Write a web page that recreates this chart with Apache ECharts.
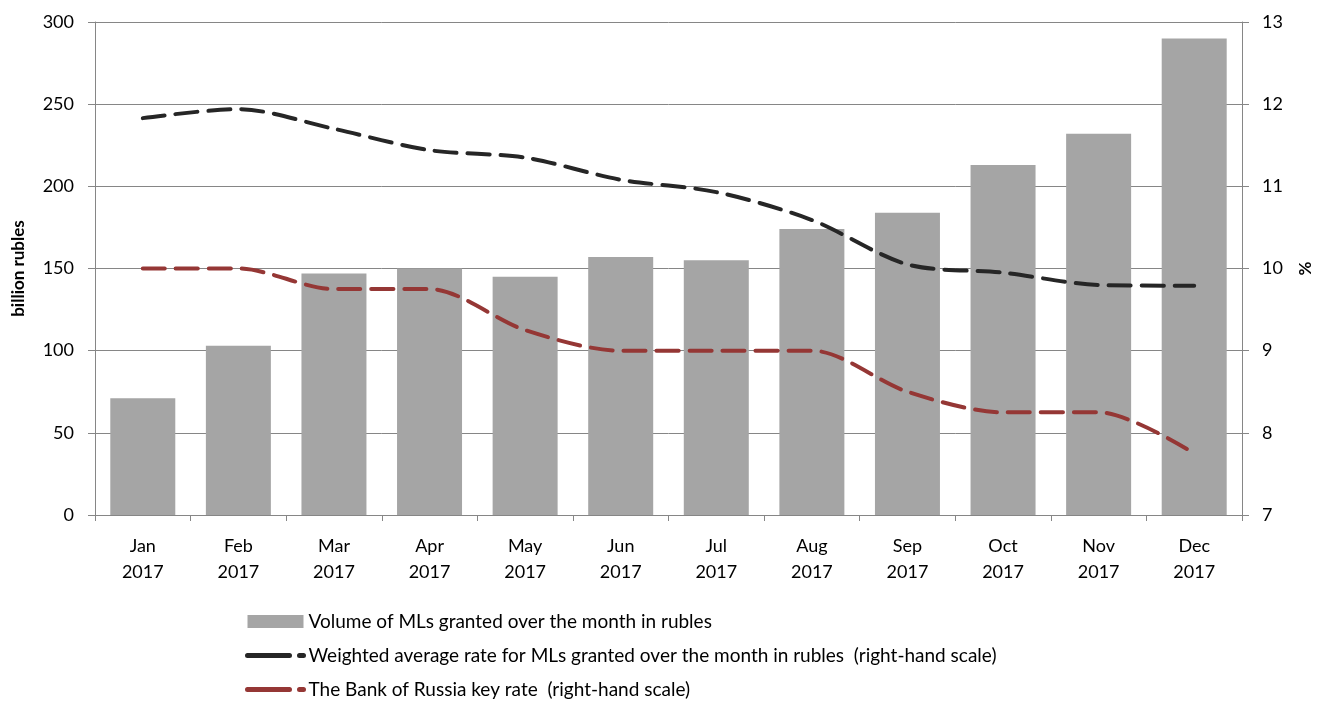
<!DOCTYPE html>
<html>
<head>
<meta charset="utf-8">
<script src="https://cdn.jsdelivr.net/npm/echarts@6/dist/echarts.min.js"></script>
<style>
  html, body { margin: 0; padding: 0; background: #fff; }
  #chart { width: 1332px; height: 702px; }
</style>
</head>
<body>
<div id="chart"></div>
<script>
var months = ['Jan\n2017', 'Feb\n2017', 'Mar\n2017', 'Apr\n2017', 'May\n2017', 'Jun\n2017',
              'Jul\n2017', 'Aug\n2017', 'Sep\n2017', 'Oct\n2017', 'Nov\n2017', 'Dec\n2017'];
var volume = [71, 103, 147, 150, 145, 157, 155, 174, 184, 213, 232, 290];
var weightedRate = [11.83, 11.94, 11.70, 11.44, 11.35, 11.08, 10.93, 10.59, 10.05, 9.95, 9.80, 9.79];
var keyRate = [10, 10, 9.75, 9.75, 9.25, 9, 9, 9, 8.5, 8.25, 8.25, 7.75];

var names = [
    'Volume of MLs granted over the month in rubles',
    'Weighted average rate for MLs granted over the month in rubles  (right-hand scale)',
    'The Bank of Russia key rate  (right-hand scale)'
];

var font = 'Lato, "Open Sans", sans-serif';
var axisGrey = '#868686';

var myChart = echarts.init(document.getElementById('chart'));

var option = {
    animation: false,
    textStyle: { fontFamily: font },
    grid: { left: 95, right: 90, top: 22, bottom: 187 },
    legend: {
        orient: 'vertical',
        left: 245,
        top: 612,
        height: 120,
        padding: 0,
        itemGap: 15,
        itemWidth: 56,
        itemHeight: 13,
        textStyle: { fontSize: 19, color: '#000', fontFamily: font },
        data: [
            { name: names[0], icon: 'rect' },
            {
                name: names[1],
                itemStyle: { opacity: 0 },
                lineStyle: { width: 5, type: [42, 10], cap: 'round' }
            },
            {
                name: names[2],
                itemStyle: { opacity: 0 },
                lineStyle: { width: 5, type: [42, 10], cap: 'round' }
            }
        ]
    },
    xAxis: {
        type: 'category',
        data: months,
        boundaryGap: true,
        axisLine: { lineStyle: { color: axisGrey } },
        axisTick: { show: true, length: 6, lineStyle: { color: axisGrey } },
        axisLabel: { color: '#000', fontSize: 18, lineHeight: 26, margin: 18 }
    },
    yAxis: [
        {
            type: 'value',
            min: 0, max: 300, interval: 50,
            name: 'billion rubles',
            nameLocation: 'middle',
            nameRotate: 90,
            nameGap: 68,
            nameTextStyle: { fontWeight: 'bold', fontSize: 17, color: '#000' },
            axisLine: { show: true, lineStyle: { color: axisGrey } },
            axisTick: { show: true, length: 7, lineStyle: { color: axisGrey } },
            axisLabel: { color: '#000', fontSize: 18, margin: 21 },
            splitLine: { lineStyle: { color: axisGrey } }
        },
        {
            type: 'value',
            min: 7, max: 13, interval: 1,
            name: '%',
            nameLocation: 'middle',
            nameRotate: 90,
            nameGap: 55,
            nameTextStyle: { fontWeight: 'bold', fontSize: 17, color: '#000' },
            axisLine: { show: true, lineStyle: { color: axisGrey } },
            axisTick: { show: true, length: 7, lineStyle: { color: axisGrey } },
            axisLabel: { color: '#000', fontSize: 18, margin: 20 },
            splitLine: { show: false }
        }
    ],
    series: [
        {
            name: names[0],
            type: 'bar',
            data: volume,
            barWidth: '68%',
            itemStyle: { color: '#a5a5a5' }
        },
        {
            name: names[1],
            type: 'line',
            yAxisIndex: 1,
            data: weightedRate,
            smooth: 0.3,
            symbol: 'none',
            itemStyle: { color: '#262626' },
            lineStyle: { color: '#262626', width: 4, type: [22, 11], cap: 'round' }
        },
        {
            name: names[2],
            type: 'line',
            yAxisIndex: 1,
            data: keyRate,
            smooth: 0.3,
            symbol: 'none',
            itemStyle: { color: '#953735' },
            lineStyle: { color: '#953735', width: 4, type: [22, 11], cap: 'round' }
        }
    ]
};

myChart.setOption(option);
</script>
</body>
</html>
